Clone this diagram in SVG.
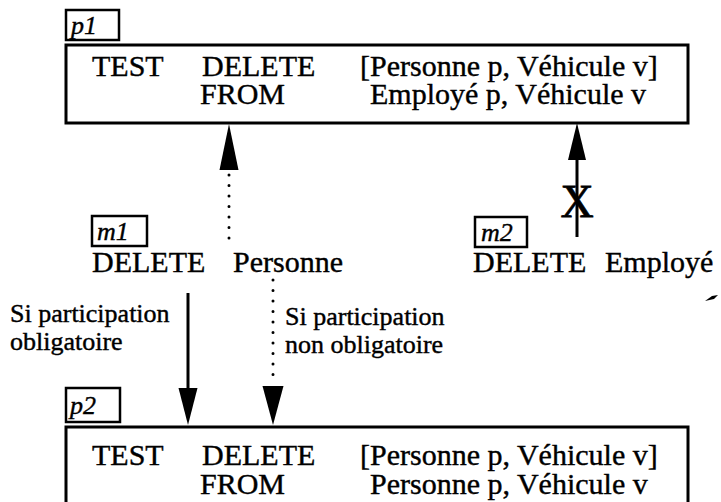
<svg xmlns="http://www.w3.org/2000/svg" width="721" height="502" viewBox="0 0 721 502">
<style>
text{font-family:"Liberation Serif","Times New Roman",serif;fill:#000;stroke:#000;stroke-width:0.4}
.t{font-size:30px}
.s{font-size:26px}
.lab{font-size:26px;font-style:italic}
.box{fill:none;stroke:#000;stroke-width:3}
.lbox{fill:none;stroke:#000;stroke-width:2.5}
.ln{stroke:#000;stroke-width:3;fill:none}
.dot{stroke:#000;stroke-width:3;fill:none;stroke-linecap:round;stroke-dasharray:0 10.5}
.head{fill:#000}
</style>
<rect width="721" height="502" fill="#fff"/>
<g id="p1">
<rect class="lbox" x="66" y="10" width="53" height="30"/>
<text class="lab" x="71" y="34">p1</text>
<rect class="box" x="66" y="45" width="622" height="78"/>
<text class="t" x="92" y="76">TEST</text>
<text class="t"><tspan x="202" y="76">DELETE</tspan><tspan x="200" y="104">FROM</tspan></text>
<text class="t"><tspan x="360" y="76">[Personne p, Véhicule v]</tspan><tspan x="370" y="104">Employé p, Véhicule v</tspan></text>
</g>
<g id="m1">
<rect class="lbox" x="92" y="216" width="55" height="30"/>
<text class="lab" x="97" y="240">m1</text>
<text class="t" x="92" y="272">DELETE<tspan x="233">Personne</tspan></text>
</g>
<g id="m2">
<rect class="lbox" x="475" y="217" width="52" height="30"/>
<text class="lab" x="481" y="241">m2</text>
<text class="t" x="473" y="272">DELETE<tspan x="605">Employé</tspan></text>
</g>
<g id="p2">
<rect class="lbox" x="66" y="388" width="54" height="34"/>
<text class="lab" x="70" y="414">p2</text>
<rect class="box" x="66" y="427" width="622" height="90"/>
<text class="t" x="92" y="465">TEST</text>
<text class="t"><tspan x="202" y="465">DELETE</tspan><tspan x="200" y="494">FROM</tspan></text>
<text class="t"><tspan x="360" y="465">[Personne p, Véhicule v]</tspan><tspan x="370" y="494">Personne p, Véhicule v</tspan></text>
</g>
<g id="connectors">
<line class="dot" x1="229" y1="238" x2="229" y2="170"/>
<polygon class="head" points="229,124 219.5,170 238.5,170"/>
<line class="ln" x1="577" y1="237" x2="577" y2="158"/>
<polygon class="head" points="577,123 568,160 586,160"/>
<text x="577" y="217" text-anchor="middle" style="font-size:46px;stroke-width:0.8">X</text>
<line class="ln" x1="188" y1="293" x2="188" y2="390"/>
<polygon class="head" points="188,425 178.5,388 197.5,388"/>
<line class="dot" x1="273" y1="280" x2="273" y2="385"/>
<polygon class="head" points="273,425 262.5,386 283.5,386"/>
<text class="s"><tspan x="10" y="322">Si participation</tspan><tspan x="10" y="350">obligatoire</tspan></text>
<text class="s"><tspan x="285" y="325">Si participation</tspan><tspan x="285" y="353">non obligatoire</tspan></text>
</g>
<path d="M705,301 L712,296 L718,295 L714,299 Z" fill="#000"/>
</svg>
